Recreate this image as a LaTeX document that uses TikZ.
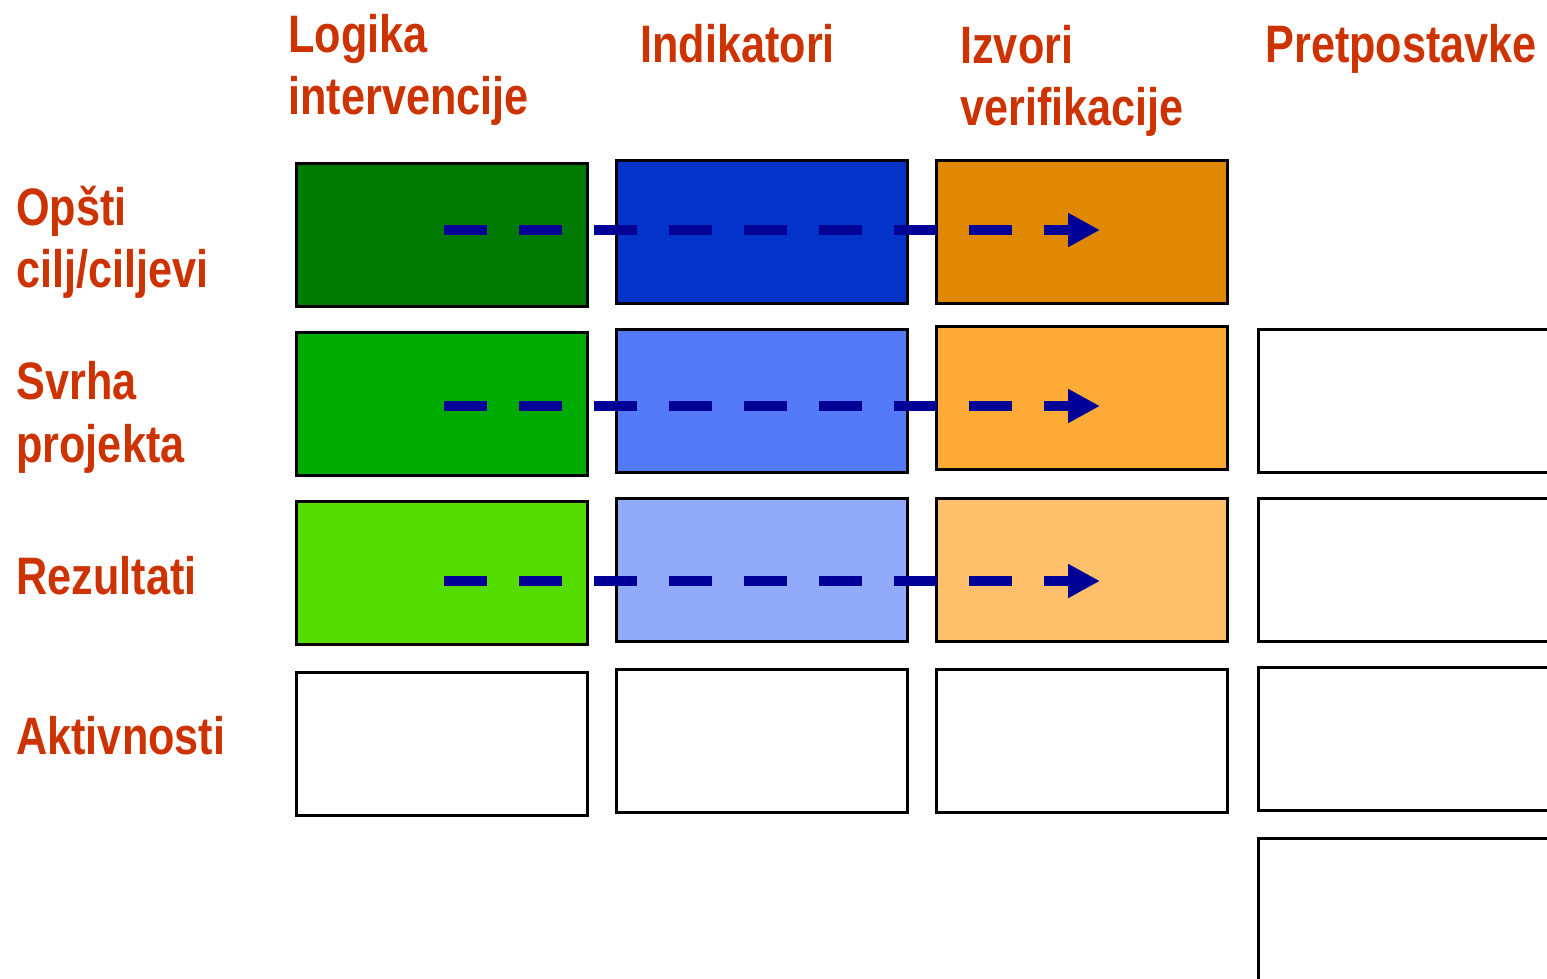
\documentclass[tikz,border=0pt]{standalone}
\usepackage{fontspec}
\setmainfont[FakeStretch=0.82]{Liberation Sans}
\usetikzlibrary{arrows.meta}
\definecolor{lblred}{HTML}{CC3300}
\definecolor{flownavy}{HTML}{000096}
\definecolor{goalA}{HTML}{007A00}
\definecolor{goalB}{HTML}{00AB00}
\definecolor{goalC}{HTML}{55DD00}
\definecolor{indA}{HTML}{0433C9}
\definecolor{indB}{HTML}{557AF7}
\definecolor{indC}{HTML}{91AAF9}
\definecolor{srcA}{HTML}{E08800}
\definecolor{srcB}{HTML}{FDAB36}
\definecolor{srcC}{HTML}{FEC06A}
\tikzset{
  cell/.style={draw=black, line width=1.7pt, minimum width=5.84cm, minimum height=2.88cm, inner sep=0pt},
  lbl/.style={text=lblred, font=\fontsize{30}{35.5}\selectfont\bfseries, align=left, anchor=base west, inner sep=0pt},
  flow/.style={draw=flownavy, line width=0.21cm, dash pattern=on 0.86cm off 0.64cm, -{Triangle[length=0.64cm,width=0.64cm]}}
}
\begin{document}
\begin{tikzpicture}[x=0.02cm,y=-0.02cm]
  \useasboundingbox (0,0) rectangle (1547,979);
  % zaglavlja kolona (base = zadnji red)
  \node[lbl] (hlog) at (288,115) {Logika\\intervencije};
  \node[lbl] (hind) at (640,63) {Indikatori};
  \node[lbl] (hizv) at (960,126) {Izvori\\verifikacije};
  \node[lbl] (hpre) at (1265,63) {Pretpostavke};
  % nazivi redova
  \node[lbl] (ropc) at (16,288) {Opšti\\cilj/ciljevi};
  \node[lbl] (rsvr) at (16,462) {Svrha\\projekta};
  \node[lbl] (rrez) at (16,594) {Rezultati};
  \node[lbl] (rakt) at (16,754) {Aktivnosti};
  % logika intervencije
  \node[cell, fill=goalA] (l1) at (442,235) {};
  \node[cell, fill=goalB] (l2) at (442,404) {};
  \node[cell, fill=goalC] (l3) at (442,573) {};
  \node[cell] (l4) at (442,744) {};
  % indikatori
  \node[cell, fill=indA] (i1) at (762,232) {};
  \node[cell, fill=indB] (i2) at (762,401) {};
  \node[cell, fill=indC] (i3) at (762,570) {};
  \node[cell] (i4) at (762,741) {};
  % izvori verifikacije
  \node[cell, fill=srcA] (v1) at (1082,232) {};
  \node[cell, fill=srcB] (v2) at (1082,398) {};
  \node[cell, fill=srcC] (v3) at (1082,570) {};
  \node[cell] (v4) at (1082,741) {};
  % pretpostavke
  \node[cell] (p2) at (1404,401) {};
  \node[cell] (p3) at (1404,570) {};
  \node[cell] (p4) at (1404,739) {};
  \node[cell] (p5) at (1404,910) {};
  % isprekidane strelice
  \foreach \y [count=\i] in {230,406,581}{
    \coordinate (s\i) at (444,\y);
    \coordinate (t\i) at (1100,\y);
    \draw[flow] (s\i) -- (t\i);
  }
\end{tikzpicture}
\end{document}
